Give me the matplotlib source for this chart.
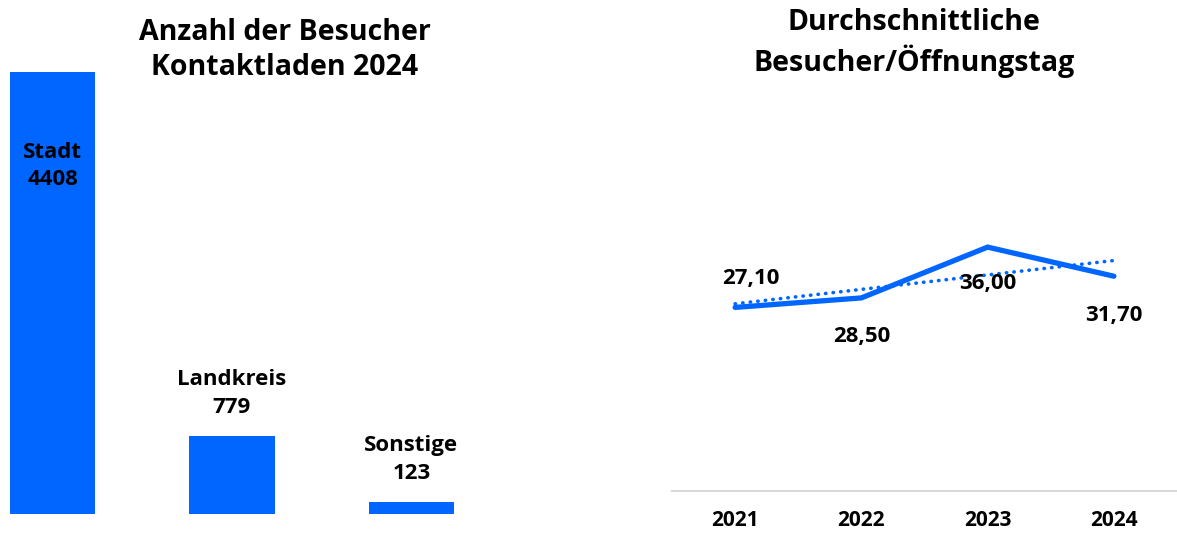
import matplotlib
matplotlib.use("Agg")
import matplotlib.pyplot as plt
import numpy as np

plt.rcParams['font.family'] = ['Open Sans', 'DejaVu Sans']
plt.rcParams['font.weight'] = 'bold'

BLUE = "#0066FF"

# left chart: visitors by origin
origins = ["Stadt", "Landkreis", "Sonstige"]
visitors = [4408, 779, 123]

# right chart: average visitors per opening day
years = ["2021", "2022", "2023", "2024"]
avg_visitors = [27.10, 28.50, 36.00, 31.70]
avg_labels = ["27,10", "28,50", "36,00", "31,70"]

W, H = 1177, 533
fig = plt.figure(figsize=(W / 100, H / 100), dpi=100)

def px_axes(x0, y0, x1, y1):
    # pixel box (top-left origin) -> figure axes
    return fig.add_axes([x0 / W, 1 - y1 / H, (x1 - x0) / W, (y1 - y0) / H])

# ---- bar chart
ax1 = px_axes(10, 72, 454, 514)
bw = 0.474
xpos = np.arange(len(origins))
ax1.bar(xpos, visitors, width=bw, color=BLUE)
ax1.set_xlim(-bw / 2, len(origins) - 1 + bw / 2)
ax1.set_ylim(0, max(visitors))
ax1.axis("off")

# label inside the tallest bar, above the others
ax1.text(xpos[0], visitors[0] * 0.787, f"{origins[0]}\n{visitors[0]}", ha="center", va="center",
         fontsize=16, fontweight="bold", linespacing=1.4)
for i in range(1, len(origins)):
    ax1.annotate(f"{origins[i]}\n{visitors[i]}", (xpos[i], visitors[i]), xytext=(0, 13),
                 textcoords="offset points", ha="center", va="bottom",
                 fontsize=16, fontweight="bold", linespacing=1.4)

fig.text(285 / W, 1 - 50 / H, "Anzahl der Besucher\nKontaktladen 2024", ha="center", va="center",
         fontsize=20.5, fontweight="bold", linespacing=1.3)

# ---- line chart
ax2 = px_axes(672, 220, 1177, 491)
xs = np.arange(len(years))
ax2.plot(xs, avg_visitors, color=BLUE, lw=3.8, solid_capstyle="round", solid_joinstyle="miter")
slope, icpt = np.polyfit(xs, avg_visitors, 1)
ax2.plot(xs, slope * xs + icpt, color=BLUE, lw=2.6, linestyle=(0, (0.1, 2.0)),
         dash_capstyle="round")
ax2.set_xlim(-0.5, len(years) - 0.5)
ax2.set_ylim(0, 40)
for s in ["top", "right", "left"]:
    ax2.spines[s].set_visible(False)
ax2.spines["bottom"].set_color("#d9d9d9")
ax2.spines["bottom"].set_linewidth(1.5)
ax2.set_yticks([])
ax2.set_xticks(xs)
ax2.set_xticklabels(years, fontsize=15, fontweight="bold")
ax2.tick_params(axis="x", length=0, pad=14)

offsets = [(11, 13), (0, -20), (0, -19), (0, -21)]
for x, v, lab, off in zip(xs, avg_visitors, avg_labels, offsets):
    ax2.annotate(lab, (x, v), xytext=off, textcoords="offset points", ha="center",
                 va="bottom" if off[1] > 0 else "top", fontsize=16, fontweight="bold",
                 annotation_clip=False)

fig.text(914 / W, 1 - 43 / H, "Durchschnittliche\nBesucher/Öffnungstag", ha="center", va="center",
         fontsize=20.5, fontweight="bold", linespacing=1.3)

fig.savefig("out.png", dpi=100)
